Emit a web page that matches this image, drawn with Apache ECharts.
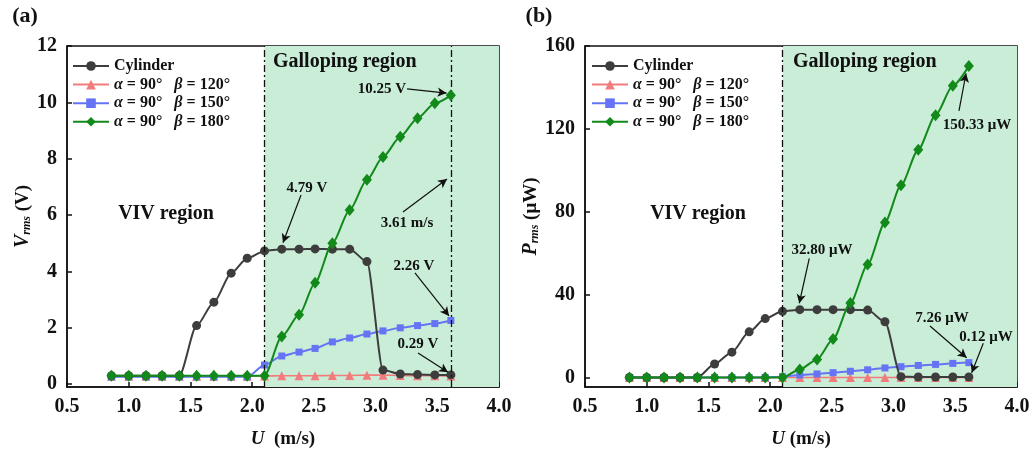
<!DOCTYPE html>
<html>
<head>
<meta charset="utf-8">
<script src="https://cdn.jsdelivr.net/npm/echarts@6/dist/echarts.min.js"></script>
<style>
html,body{margin:0;padding:0;background:#fff;}
#c{width:1035px;height:457px;}
</style>
</head>
<body>
<div id="c"></div>
<script>
// ---------- data ----------
const U = [0.86,1.00,1.14,1.27,1.41,1.55,1.69,1.83,1.96,2.10,2.24,2.38,2.51,2.65,2.79,2.93,3.06,3.20,3.34,3.48,3.61];

const V_cyl = [0.30,0.30,0.30,0.30,0.30,2.08,2.91,3.94,4.47,4.73,4.79,4.79,4.80,4.79,4.79,4.35,0.50,0.36,0.34,0.33,0.33];
const V_120 = [0.28,0.28,0.28,0.28,0.28,0.28,0.28,0.28,0.28,0.29,0.30,0.30,0.30,0.31,0.31,0.32,0.32,0.31,0.30,0.30,0.29];
const V_150 = [0.26,0.26,0.26,0.26,0.26,0.26,0.26,0.26,0.26,0.68,1.00,1.14,1.27,1.50,1.64,1.78,1.89,2.00,2.08,2.15,2.26];
const V_180 = [0.30,0.30,0.30,0.30,0.30,0.30,0.30,0.30,0.30,0.30,1.69,2.46,3.60,5.00,6.18,7.25,8.06,8.78,9.44,9.97,10.25];

const P_cyl = [0.1,0.1,0.1,0.1,0.1,6.6,12.3,22.1,28.5,32.0,32.8,32.8,32.8,32.8,32.6,27.0,0.5,0.3,0.3,0.3,0.3];
const P_120 = [0.1,0.1,0.1,0.1,0.1,0.1,0.1,0.1,0.1,0.1,0.1,0.1,0.1,0.1,0.11,0.11,0.12,0.12,0.12,0.12,0.12];
const P_150 = [0.1,0.1,0.1,0.1,0.1,0.1,0.1,0.1,0.1,0.5,1.3,1.8,2.4,3.1,3.8,4.7,5.3,5.9,6.4,6.9,7.26];
const P_180 = [0.1,0.1,0.1,0.1,0.1,0.1,0.1,0.1,0.1,0.1,4.0,8.8,18.6,36.0,54.6,74.9,92.8,110.0,126.6,140.8,150.33];

const xTicks = [0.5,1.0,1.5,2.0,2.5,3.0,3.5,4.0];
const vTicks = [0,2,4,6,8,10,12];
const pTicks = [0,40,80,120,160];

const names = ['Cylinder','α = 90°   β = 120°','α = 90°   β = 150°','α = 90°   β = 180°'];

// annotation arrows (data coordinates: [from, to])
const arrowsV = [
  [[3.255,10.48],[3.575,10.33]],
  [[2.396,6.71],[2.25,5.02]],
  [[3.222,6.11],[3.579,7.28]],
  [[3.319,3.95],[3.595,2.42]],
  [[3.344,1.11],[3.587,0.42]]
];
const arrowsP = [
  [[3.530,128.7],[3.587,146.8]],
  [[2.317,57.6],[2.236,35.9]],
  [[3.295,24.9],[3.592,9.6]],
  [[3.727,16.6],[3.633,2.4]]
];
// annotation texts
const textsV = [
  ['Galloping region',273,62,20,'left'],
  ['10.25 V',382,89,15,'center'],
  ['4.79 V',307,188,15,'center'],
  ['3.61 m/s',407,223,15,'center'],
  ['2.26 V',414,266,15,'center'],
  ['0.29 V',418,344,15,'center'],
  ['VIV region',166,214,20,'center']
];
const textsP = [
  ['Galloping region',793,62,20,'left'],
  ['150.33 μW',977,125,15,'center'],
  ['32.80 μW',822,250,15,'center'],
  ['7.26 μW',942,318,15,'center'],
  ['0.12 μW',986,337,15,'center'],
  ['VIV region',698,214,20,'center'],
  ['(a)',25,16,22,'center'],
  ['(b)',539,16,22,'center']
];

// ---------- styles ----------
const FONT = '"Liberation Serif","Times New Roman",serif';
const COLORS = ['#3d3d3d','#f27c7c','#6474f5','#128a1a'];
const SYMBOLS = ['circle','triangle','rect','diamond'];
const SIZES = [9,9,7,[10,12]];
const ZS = [4,2,3,5];
const WIDTHS = [2,1.6,2,2];
const REGION = '#c9edd6';

function pairs(ys){ return U.map((u,i)=>[u,ys[i]]); }

function dataSeries(gi, arrs){
  return arrs.map((ys,k)=>({
    name: names[k], type:'line', xAxisIndex:gi, yAxisIndex:gi,
    data: pairs(ys), smooth:0.25, smoothMonotone:'x',
    symbol: SYMBOLS[k], symbolSize: SIZES[k], showSymbol:true,
    z: ZS[k],
    lineStyle:{color:COLORS[k], width:WIDTHS[k]},
    itemStyle:{color:COLORS[k]},
    emphasis:{disabled:true}
  }));
}

function helperBg(gi, vlines){
  return {
    type:'line', xAxisIndex:gi, yAxisIndex:gi, data:[], z:1, silent:true,
    markArea:{silent:true, itemStyle:{color:REGION, opacity:1}, data:[[{xAxis:2.1},{xAxis:4.0}]]},
    markLine:{silent:true, symbol:['none','none'], label:{show:false},
      lineStyle:{color:'#111', width:1.3, type:[7,3,2,3]},
      data: vlines.map(v=>({xAxis:v}))}
  };
}
function helperArrows(gi, arrows){
  return {
    type:'line', xAxisIndex:gi, yAxisIndex:gi, data:[], z:10, silent:true,
    markLine:{silent:true, symbol:['none','arrow'], symbolSize:[7,9], label:{show:false},
      lineStyle:{color:'#111', width:1.2, type:'solid'},
      data: arrows.map(a=>[{coord:a[0]},{coord:a[1]}])}
  };
}

function xAxis(gi, title){
  return {
    type:'value', gridIndex:gi, min:0.5, max:4.0, interval:0.5,
    axisLine:{onZero:false, lineStyle:{color:'#111', width:1.5}},
    axisTick:{inside:true, length:5, lineStyle:{color:'#111', width:1.5}},
    axisLabel:{color:'#111', fontFamily:FONT, fontWeight:'bold', fontSize:20, margin:10,
      formatter:v=>v.toFixed(1)},
    splitLine:{show:false},
    name:title, nameLocation:'middle', nameGap:43,
    nameTextStyle:{color:'#111', fontFamily:FONT, fontWeight:'bold', fontSize:19,
      rich:{i:{fontFamily:FONT, fontStyle:'italic', fontWeight:'bold', fontSize:19, color:'#111'}}}
  };
}
function yAxis(gi, min, max, ticks, title, gap){
  return {
    type:'value', gridIndex:gi, min:min, max:max,
    axisLine:{onZero:false, lineStyle:{color:'#111', width:1.5}},
    axisTick:{inside:true, length:5, customValues:ticks, lineStyle:{color:'#111', width:1.5}},
    axisLabel:{customValues:ticks, color:'#111', fontFamily:FONT, fontWeight:'bold', fontSize:20, margin:10},
    splitLine:{show:false},
    name:title, nameLocation:'middle', nameGap:gap, nameRotate:90,
    nameTextStyle:{color:'#111', fontFamily:FONT, fontWeight:'bold', fontSize:19,
      rich:{
        i:{fontFamily:FONT, fontStyle:'italic', fontWeight:'bold', fontSize:20, color:'#111'},
        s:{fontFamily:FONT, fontStyle:'italic', fontWeight:'bold', fontSize:12, color:'#111', padding:[9,0,0,0]}
      }}
  };
}
function legend(left){
  return {
    left:left, top:53, orient:'vertical', itemWidth:36, itemHeight:12, itemGap:2.6,
    data:names, selectedMode:false,
    textStyle:{fontFamily:FONT, fontWeight:'bold', fontSize:16, color:'#111', lineHeight:16,
      rich:{i:{fontFamily:FONT, fontStyle:'italic', fontWeight:'bold', fontSize:16, color:'#111'}}},
    formatter: n => n.replace('α','{i|α}').replace('β','{i|β}')
  };
}
function texts(list){
  return list.map(t=>({
    type:'text', z:100, silent:true,
    style:{text:t[0], x:t[1], y:t[2], align:t[4], verticalAlign:'middle',
      font:'bold '+t[3]+'px '+FONT, fill:'#111'}
  }));
}

const chart = echarts.init(document.getElementById('c'), null, {renderer:'canvas'});
chart.setOption({
  animation:false,
  backgroundColor:'#fff',
  grid:[
    {left:67, top:46, width:432, height:341, show:true, borderColor:'#111', borderWidth:1.5, backgroundColor:'transparent'},
    {left:585, top:46, width:432, height:341, show:true, borderColor:'#111', borderWidth:1.5, backgroundColor:'transparent'}
  ],
  xAxis:[xAxis(0,'{i|U}  (m/s)'), xAxis(1,'{i|U} (m/s)')],
  yAxis:[
    yAxis(0,-0.1,12,vTicks,'{i|V}{s|rms} (V)',27),
    yAxis(1,-4.5,160,pTicks,'{i|P}{s|rms} (μW)',34)
  ],
  legend:[legend(67), legend(586)],
  series:[
    helperBg(0,[2.1,3.61]),
    helperBg(1,[2.1]),
    ...dataSeries(0,[V_cyl,V_120,V_150,V_180]),
    ...dataSeries(1,[P_cyl,P_120,P_150,P_180]),
    helperArrows(0,arrowsV),
    helperArrows(1,arrowsP)
  ],
  graphic: texts(textsV.concat(textsP))
});
</script>
</body>
</html>
